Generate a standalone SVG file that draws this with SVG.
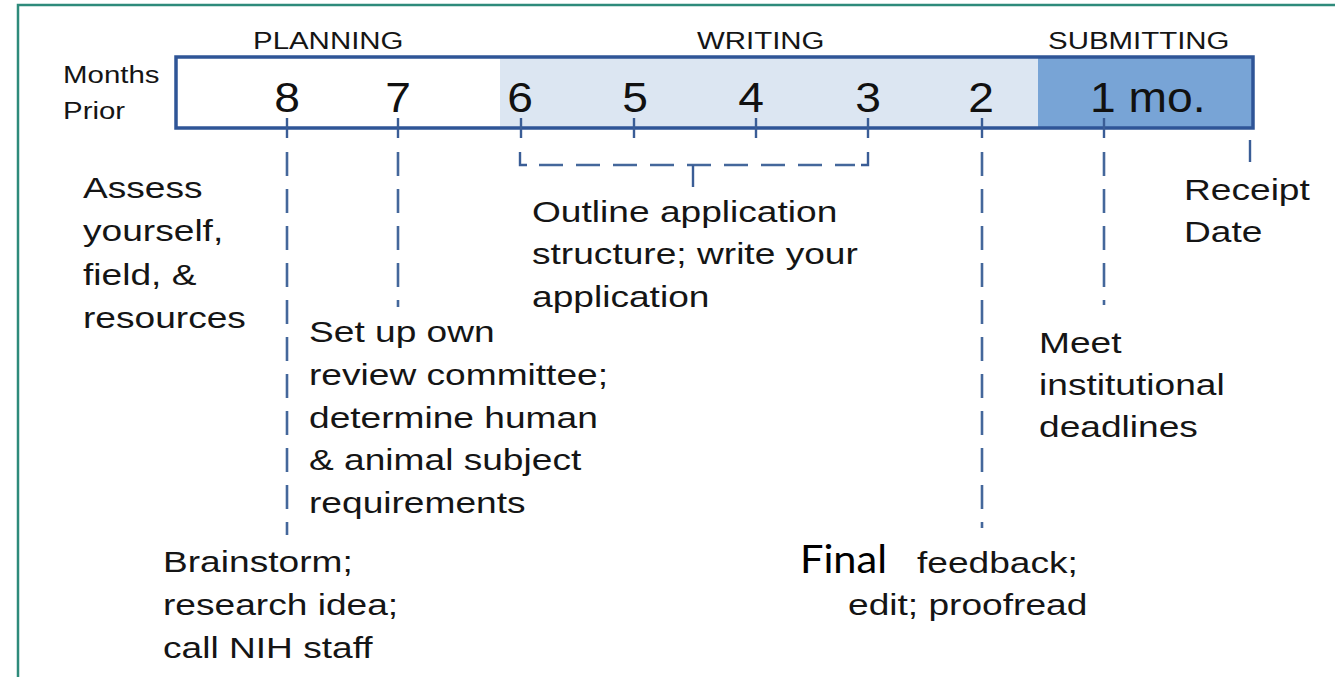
<svg xmlns="http://www.w3.org/2000/svg" width="1335" height="677" viewBox="0 0 1335 677">
<style>
.t{font-family:"Liberation Sans",Arial,sans-serif;font-size:29px;fill:#151515}
.h{font-family:"Liberation Sans",Arial,sans-serif;font-size:23px;fill:#151515}
.d{font-family:"Liberation Sans",Arial,sans-serif;font-size:42px;fill:#111;text-anchor:middle}
.dash{stroke:#44679b;stroke-width:2.6;fill:none;stroke-dasharray:24 13}
.tick{stroke:#3a5d96;stroke-width:2.4;fill:none}
</style>
<rect width="1335" height="677" fill="#fff"/>
<path d="M18,677 V5 H1335" fill="none" stroke="#2e8b7b" stroke-width="2.5"/>

<g id="timeline">
<rect x="176" y="57" width="324" height="71" fill="#ffffff"/>
<rect x="500" y="57" width="538" height="71" fill="#dce6f2"/>
<rect x="1038" y="57" width="215" height="71" fill="#78a4d6"/>
<rect x="176" y="57" width="1077" height="71" fill="none" stroke="#2f5597" stroke-width="3.5"/>
<text class="h" transform="translate(63,83) scale(1.28,1)">Months</text>
<text class="h" transform="translate(63,119) scale(1.28,1)">Prior</text>
<text class="h" transform="translate(253,49) scale(1.28,1)">PLANNING</text>
<text class="h" transform="translate(697,49) scale(1.28,1)">WRITING</text>
<text class="h" transform="translate(1048,49) scale(1.28,1)">SUBMITTING</text>
<text class="d" transform="translate(287,112) scale(1.1,1)">8</text>
<text class="d" transform="translate(398,112) scale(1.1,1)">7</text>
<text class="d" transform="translate(520,112) scale(1.1,1)">6</text>
<text class="d" transform="translate(635,112) scale(1.1,1)">5</text>
<text class="d" transform="translate(751,112) scale(1.1,1)">4</text>
<text class="d" transform="translate(868,112) scale(1.1,1)">3</text>
<text class="d" transform="translate(981,112) scale(1.1,1)">2</text>
<text class="d" style="text-anchor:start" transform="translate(1090,112) scale(1.1,1)">1 mo.</text>
</g>

<g id="connectors">
<path class="tick" d="M287,118 V138 M398,118 V138 M521,118 V138 M634,118 V138 M756,118 V138 M868,118 V138 M982,118 V138 M1104,118 V138 M1250,140 V162"/>
<path class="dash" d="M287,152 V535"/>
<path class="dash" d="M398,152 V307"/>
<path class="dash" d="M982,152 V528"/>
<path class="dash" d="M1104,152 V305"/>
<path class="tick" d="M520,152 V165 H527 M861,165 H868 V152"/>
<path class="dash" d="M539,165 H855" stroke-dasharray="22 12"/>
<path class="tick" d="M693,165 V187"/>
</g>

<g id="assess"><text class="t" transform="translate(83,198) scale(1.28,1)"><tspan x="0">Assess</tspan><tspan x="0" dy="43.3">yourself,</tspan><tspan x="0" dy="43.3">field, &amp;</tspan><tspan x="0" dy="43.3">resources</tspan></text></g>
<g id="outline"><text class="t" transform="translate(532,222) scale(1.28,1)"><tspan x="0">Outline application</tspan><tspan x="0" dy="42.5">structure; write your</tspan><tspan x="0" dy="42.5">application</tspan></text></g>
<g id="setup"><text class="t" transform="translate(309,342) scale(1.28,1)"><tspan x="0">Set up own</tspan><tspan x="0" dy="42.8">review committee;</tspan><tspan x="0" dy="42.8">determine human</tspan><tspan x="0" dy="42.8">&amp; animal subject</tspan><tspan x="0" dy="42.8">requirements</tspan></text></g>
<g id="receipt"><text class="t" transform="translate(1184,200) scale(1.28,1)"><tspan x="0">Receipt</tspan><tspan x="0" dy="42">Date</tspan></text></g>
<g id="meet"><text class="t" transform="translate(1039,353) scale(1.28,1)"><tspan x="0">Meet</tspan><tspan x="0" dy="42">institutional</tspan><tspan x="0" dy="42">deadlines</tspan></text></g>
<g id="brainstorm"><text class="t" transform="translate(163,572) scale(1.28,1)"><tspan x="0">Brainstorm;</tspan><tspan x="0" dy="43">research idea;</tspan><tspan x="0" dy="43">call NIH staff</tspan></text></g>
<g id="final">
<text x="800" y="573" font-family="Lato,'Open Sans',sans-serif" font-size="39" fill="#000" textLength="87" lengthAdjust="spacingAndGlyphs">Final</text>
<text class="t" transform="translate(917,573) scale(1.28,1)">feedback;</text>
<text class="t" transform="translate(848,615) scale(1.28,1)">edit; proofread</text>
</g>
</svg>
